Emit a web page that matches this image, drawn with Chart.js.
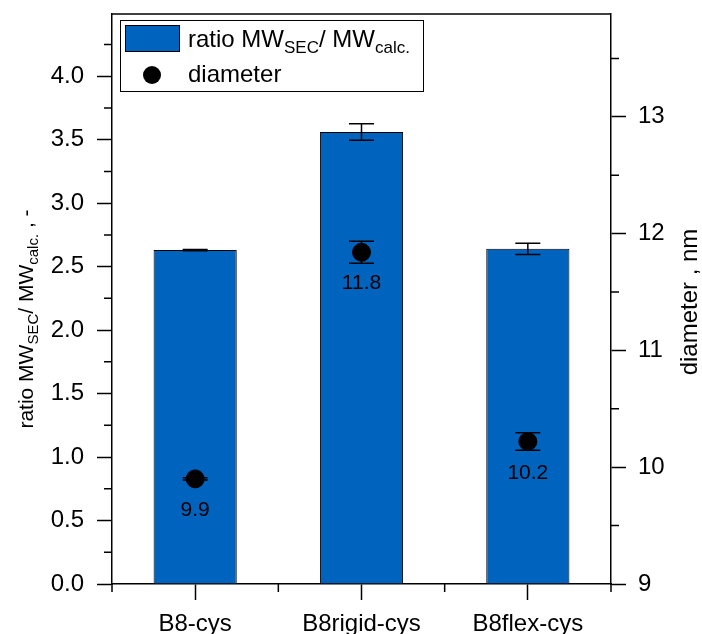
<!DOCTYPE html>
<html>
<head>
<meta charset="utf-8">
<script src="https://cdn.jsdelivr.net/npm/chart.js@4.4.1/dist/chart.umd.min.js"></script>
<style>
  html, body { margin: 0; padding: 0; background: #fff; }
  #wrap { width: 702px; height: 634px; }
</style>
</head>
<body>
<div id="wrap"><canvas id="ratio-chart" width="702" height="634"></canvas></div>
<script>
// values
const categories = ['B8-cys', 'B8rigid-cys', 'B8flex-cys'];
const ratioValues = [2.63, 3.56, 2.64];
const ratioErrors = [0.005, 0.065, 0.045];
const diameterValues = [9.9, 11.84, 10.22];
const diameterErrors = [0.01, 0.094, 0.075];

const ratioTicks = [0, 0.5, 1.0, 1.5, 2.0, 2.5, 3.0, 3.5, 4.0];
const ratioMinorTicks = [0.25, 0.75, 1.25, 1.75, 2.25, 2.75, 3.25, 3.75, 4.25];
const diameterTicks = [9, 10, 11, 12, 13];
const diameterMinorTicks = [9.5, 10.5, 11.5, 12.5, 13.5];

const FONT = 'Arial, "Liberation Sans", sans-serif';
const BAR_BLUE = '#0063be';

// draws text with sub-scripts, parts: [text, size, dy]
function drawParts(ctx, parts, x, y, centered) {
    let total = 0;
    parts.forEach(p => {
        ctx.font = p[1] + 'px ' + FONT;
        total += ctx.measureText(p[0]).width;
    });
    let cx = centered ? x - total / 2 : x;
    parts.forEach(p => {
        ctx.font = p[1] + 'px ' + FONT;
        ctx.fillText(p[0], cx, y + p[2]);
        cx += ctx.measureText(p[0]).width;
    });
}

function noPad(s) {
    s.paddingTop = 0;
    s.paddingBottom = 0;
}

const extrasPlugin = {
    id: 'extras',
    afterDatasetDraw(chart, args) {
        // error bars go on top of the bars but under the points
        if (args.index !== 0) return;
        const ctx = chart.ctx;
        const x = chart.scales.x;
        const y = chart.scales.y;
        const y1 = chart.scales.y1;
        const half = 12.5;
        ctx.save();
        ctx.strokeStyle = '#000';
        ctx.lineWidth = 1.5;
        categories.forEach((c, i) => {
            const px = x.getPixelForValue(i);
            const sets = [
                [y, ratioValues[i], ratioErrors[i]],
                [y1, diameterValues[i], diameterErrors[i]]
            ];
            sets.forEach(s => {
                const top = s[0].getPixelForValue(s[1] + s[2]);
                const bot = s[0].getPixelForValue(s[1] - s[2]);
                ctx.beginPath();
                ctx.moveTo(px, top); ctx.lineTo(px, bot);
                ctx.moveTo(px - half, top); ctx.lineTo(px + half, top);
                ctx.moveTo(px - half, bot); ctx.lineTo(px + half, bot);
                ctx.stroke();
            });
        });
        ctx.restore();
    },
    afterDraw(chart) {
        const ctx = chart.ctx;
        const area = chart.chartArea;
        const x = chart.scales.x;
        const y = chart.scales.y;
        const y1 = chart.scales.y1;
        ctx.save();
        ctx.strokeStyle = '#000';
        ctx.fillStyle = '#000';
        ctx.lineWidth = 1.5;

        // top frame line
        ctx.beginPath();
        ctx.moveTo(area.left, area.top);
        ctx.lineTo(area.right, area.top);
        ctx.stroke();

        // minor ticks
        ctx.beginPath();
        ratioMinorTicks.forEach(v => {
            const py = y.getPixelForValue(v);
            ctx.moveTo(area.left - 8, py); ctx.lineTo(area.left, py);
        });
        diameterMinorTicks.forEach(v => {
            const py = y1.getPixelForValue(v);
            ctx.moveTo(area.right, py); ctx.lineTo(area.right + 8, py);
        });
        const step = (area.right - area.left) / categories.length;
        for (let k = 0; k <= categories.length; k++) {
            const px = area.left + k * step;
            ctx.moveTo(px, area.bottom); ctx.lineTo(px, area.bottom + 8);
        }
        ctx.stroke();

        // point labels
        ctx.font = '21px ' + FONT;
        ctx.textAlign = 'center';
        ctx.textBaseline = 'alphabetic';
        diameterValues.forEach((v, i) => {
            ctx.fillText(v.toFixed(1), x.getPixelForValue(i), y1.getPixelForValue(v) + 37);
        });

        // axis titles
        ctx.textAlign = 'left';
        ctx.save();
        ctx.translate(33, 319);
        ctx.rotate(-Math.PI / 2);
        drawParts(ctx, [['ratio MW', 21, 0], ['SEC', 15, 5], ['/ MW', 21, 0], ['calc.', 15, 5], [' , -', 21, 0]], 0, 0, true);
        ctx.restore();
        ctx.save();
        ctx.translate(697, 302);
        ctx.rotate(-Math.PI / 2);
        drawParts(ctx, [['diameter , nm', 24, 0]], 0, 0, true);
        ctx.restore();

        // legend
        ctx.lineWidth = 1;
        ctx.fillStyle = '#fff';
        ctx.fillRect(120.5, 20.5, 303, 71);
        ctx.strokeRect(120.5, 20.5, 303, 71);
        ctx.fillStyle = BAR_BLUE;
        ctx.fillRect(125.5, 25.5, 54, 26);
        ctx.strokeRect(125.5, 25.5, 54, 26);
        ctx.fillStyle = '#000';
        ctx.beginPath();
        ctx.arc(152, 75, 9, 0, Math.PI * 2);
        ctx.fill();
        drawParts(ctx, [['ratio MW', 24, 0], ['SEC', 17, 6], ['/ MW', 24, 0], ['calc.', 17, 6]], 188, 47, false);
        drawParts(ctx, [['diameter', 24, 0]], 188, 82, false);
        ctx.restore();
    }
};

function setupChart() {
    const ctx = document.getElementById('ratio-chart').getContext('2d');
    const config = {
        type: 'bar',
        data: {
            labels: categories,
            datasets: [{
                label: 'ratio',
                data: ratioValues,
                yAxisID: 'y',
                backgroundColor: BAR_BLUE,
                borderColor: '#000',
                borderWidth: 1,
                barPercentage: 0.5,
                categoryPercentage: 1.0,
                order: 1
            }, {
                type: 'line',
                label: 'diameter',
                data: diameterValues,
                yAxisID: 'y1',
                showLine: false,
                pointRadius: 9,
                pointHoverRadius: 9,
                backgroundColor: '#000',
                borderColor: '#000',
                order: 0
            }]
        },
        options: {
            responsive: false,
            animation: false,
            events: [],
            layout: { padding: { top: 14, left: 0, right: 0, bottom: 0 } },
            plugins: { legend: { display: false }, tooltip: { enabled: false } },
            scales: {
                x: {
                    grid: { display: true, drawOnChartArea: false, offset: false, tickLength: 16, tickColor: '#000', tickWidth: 1.5 },
                    border: { display: true, color: '#000', width: 1.5 },
                    ticks: { color: '#000', padding: 10, font: { size: 24, family: FONT } },
                    afterFit: s => { s.height = 50; s.paddingLeft = 0; s.paddingRight = 0; }
                },
                y: {
                    position: 'left',
                    min: 0,
                    max: 4.49,
                    afterBuildTicks: s => { s.ticks = ratioTicks.map(v => ({ value: v })); },
                    grid: { drawOnChartArea: false, tickLength: 15, tickColor: '#000', tickWidth: 1.5 },
                    border: { display: true, color: '#000', width: 1.5 },
                    ticks: { color: '#000', padding: 13, font: { size: 24, family: FONT }, callback: v => v.toFixed(1) },
                    afterFit: s => { s.width = 112; noPad(s); }
                },
                y1: {
                    position: 'right',
                    min: 9,
                    max: 13.88,
                    afterBuildTicks: s => { s.ticks = diameterTicks.map(v => ({ value: v })); },
                    grid: { drawOnChartArea: false, tickLength: 15, tickColor: '#000', tickWidth: 1.5 },
                    border: { display: true, color: '#000', width: 1.5 },
                    ticks: { color: '#000', padding: 12, font: { size: 24, family: FONT }, callback: v => String(v) },
                    afterFit: s => { s.width = 91; noPad(s); }
                }
            }
        },
        plugins: [extrasPlugin]
    };
    return new Chart(ctx, config);
}

const ratioChart = setupChart();
</script>
</body>
</html>
